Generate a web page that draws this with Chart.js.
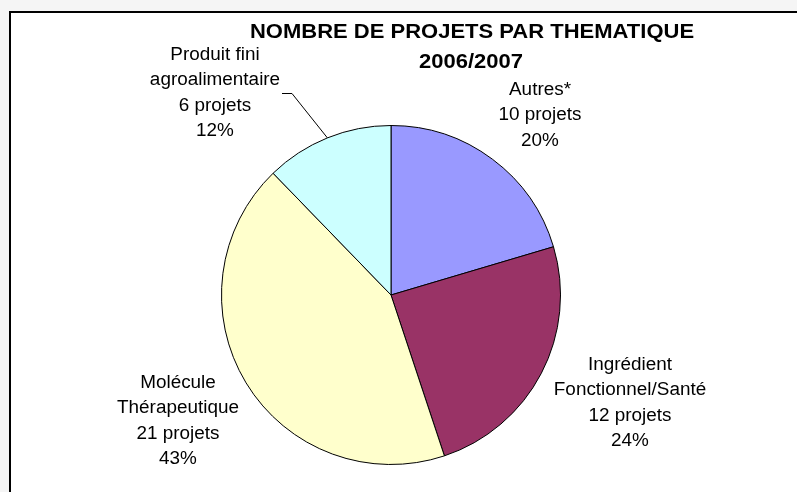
<!DOCTYPE html>
<html lang="fr">
<head>
    <meta charset="UTF-8">
    <title>Nombre de projets par thématique 2006/2007</title>
    <script src="https://cdn.jsdelivr.net/npm/chart.js"></script>
    <style>
        html, body { margin: 0; padding: 0; }
        body {
            width: 797px;
            height: 492px;
            background: #f5f5f5;
            position: relative;
            overflow: hidden;
        }
        #frame {
            position: absolute;
            left: 9px;
            top: 11px;
            width: 800px;
            height: 500px;
            background: #fff;
            border-top: 2px solid #000;
            border-left: 2px solid #000;
        }
        #myChart {
            position: absolute;
            left: 0;
            top: 0;
        }
    </style>
</head>
<body>
    <div id="frame"></div>
    <canvas id="myChart" width="797" height="492"></canvas>

    <script>
        const categories = ['Autres*', 'Ingrédient Fonctionnel/Santé', 'Molécule Thérapeutique', 'Produit fini agroalimentaire'];
        const projets = [10, 12, 21, 6];
        const couleurs = ['#9999FF', '#993366', '#FFFFCC', '#CCFFFF'];
        // libellés sur plusieurs lignes, comme dans l'original
        const labelLines = [
            ['Autres*'],
            ['Ingrédient', 'Fonctionnel/Santé'],
            ['Molécule', 'Thérapeutique'],
            ['Produit fini', 'agroalimentaire']
        ];
        const titleLines = ['NOMBRE DE PROJETS PAR THEMATIQUE', '2006/2007'];

        // où poser chaque bloc de texte (centre x, ligne de base de la 1re ligne)
        const labelPos = [
            {x: 540, y: 95},
            {x: 630, y: 370},
            {x: 178, y: 388},
            {x: 215, y: 60}
        ];

        // texte un peu étiré horizontalement, comme sur l'image
        function stretchedText(ctx, txt, x, y, sx) {
            ctx.save();
            ctx.translate(x, y);
            ctx.scale(sx, 1);
            ctx.fillText(txt, 0, 0);
            ctx.restore();
        }

        const labelsPlugin = {
            id: 'labelsPlugin',
            afterDraw(chart) {
                const {ctx} = chart;
                const meta = chart.getDatasetMeta(0);
                const total = projets.reduce((a, b) => a + b, 0);

                ctx.save();
                ctx.fillStyle = '#000';
                ctx.textAlign = 'center';
                ctx.textBaseline = 'alphabetic';

                // titre
                ctx.font = 'bold 20px "Liberation Sans", Arial, sans-serif';
                stretchedText(ctx, titleLines[0], 472, 38, 1.1);
                stretchedText(ctx, titleLines[1], 471, 68, 1.1);

                // étiquettes
                ctx.font = '18px "Liberation Sans", Arial, sans-serif';
                projets.forEach((v, i) => {
                    const lines = labelLines[i].concat([v + ' projets', Math.round(v / total * 100) + '%']);
                    lines.forEach((l, j) => {
                        stretchedText(ctx, l, labelPos[i].x, labelPos[i].y + j * 25.3, 1.05);
                    });
                });

                // trait de rappel pour "Produit fini"
                const arc = meta.data[3];
                const mid = (arc.startAngle + arc.endAngle) / 2;
                const ex = arc.x + Math.cos(mid) * arc.outerRadius;
                const ey = arc.y + Math.sin(mid) * arc.outerRadius;
                ctx.strokeStyle = '#000';
                ctx.lineWidth = 1;
                ctx.beginPath();
                ctx.moveTo(282, 93.5);
                ctx.lineTo(292, 93.5);
                ctx.lineTo(ex, ey);
                ctx.stroke();
                ctx.restore();
            }
        };

        const config = {
            type: 'pie',
            data: {
                labels: categories,
                datasets: [{
                    data: projets,
                    backgroundColor: couleurs,
                    borderColor: '#000',
                    borderWidth: 1
                }]
            },
            options: {
                responsive: false,
                animation: false,
                layout: {
                    padding: {top: 125, bottom: 27, left: 221, right: 236}
                },
                plugins: {
                    legend: { display: false },
                    tooltip: { enabled: false },
                    title: { display: false }
                }
            },
            plugins: [labelsPlugin]
        };

        const ctx = document.getElementById('myChart').getContext('2d');
        new Chart(ctx, config);
    </script>
</body>
</html>
